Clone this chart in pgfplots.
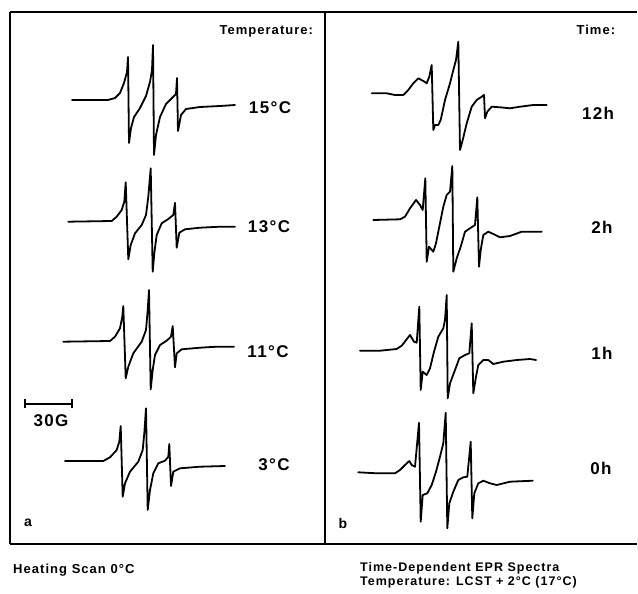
\documentclass[border=0pt]{standalone}
\usepackage{fontspec}
\setmainfont{Liberation Sans}[LetterSpace=8]
\usepackage{pgfplots}
\pgfplotsset{compat=1.18}

\newcommand{\fs}[1]{\fontsize{#1bp}{#1bp}\selectfont\bfseries}

\begin{document}
\begin{tikzpicture}
\begin{axis}[
  width=638bp, height=594bp, scale only axis,
  xmin=0, xmax=638, ymin=0, ymax=594, y dir=reverse,
  axis lines=none, clip=false,
  spec/.style={black, solid, mark=none, line width=1.8bp, line join=round, line cap=round},
]
\path (axis cs:0,0) rectangle (axis cs:638,594);

% panel frames
\draw[line width=2bp] (axis cs:10,12) -- (axis cs:637,12);
\draw[line width=2bp] (axis cs:10,544) -- (axis cs:637,544);
\draw[line width=1.8bp] (axis cs:10,12) -- (axis cs:10,544);
\draw[line width=1.8bp] (axis cs:325,12) -- (axis cs:325,544);

% ---------- panel a: heating scan ----------
% 15 C
\addplot[spec] coordinates {(72,100) (108,100) (115,98) (120,93) (124,83) (127,72) (128,57)
 (129,143) (131,128) (134,117) (140,108) (146,96) (150,82) (152,70) (153,45)
 (154,155) (156,135) (160,117) (166,104) (172,98) (176,94) (177,78)
 (178,131) (181,115) (186,109) (200,107) (220,106) (235,105)};
% 13 C
\addplot[spec] coordinates {(68.3,221.7) (111.7,221) (116.7,216.7) (121.7,210) (124.3,201.7) (125.7,182.3)
 (128.3,259.3) (130.7,245) (135,233.3) (141.7,225) (146,215) (148.3,196.7) (150.7,168.3)
 (152.7,271.7) (154.3,253.3) (156.7,235) (161.7,223.3) (168.3,219) (173.3,215) (175,202.7)
 (176.7,247.7) (179.3,232.7) (185,229.3) (200,227.7) (220,226.7) (235,226.7)};
% 11 C
\addplot[spec] coordinates {(63.3,341.7) (110,341) (115,336.7) (120,328.3) (122.3,316.7) (123.3,306)
 (125.7,378.3) (128.3,366.7) (133.3,353.3) (141.7,341.7) (146,330) (147.7,310) (149,290)
 (150.7,389.3) (152.7,370) (155,355) (160,345) (166.7,340.7) (171,336.7) (172.7,326)
 (175,367.3) (176.7,353.3) (181.7,349.3) (200,347.7) (216.7,346.7) (234,346.7)};
% 3 C
\addplot[spec] coordinates {(65,461) (103.3,461) (110,457.3) (116.7,450) (119.3,441.7) (120.7,426)
 (122.7,496.7) (125,483.3) (130,471.7) (138.3,461.7) (142.7,450) (144.3,433.3) (146,408.3)
 (147.7,510) (150,490) (153.3,473.3) (158.3,463.3) (165,460.7) (168.3,456.7) (169.3,444)
 (171,486) (173.3,471.7) (180,468.3) (200,466.7) (225,466)};

% ---------- panel b: time dependence ----------
% 12 h
\addplot[spec] coordinates {(371.7,93.3) (386.7,93.3) (395,95) (403.3,95) (408.3,90) (413.3,83.3)
 (418.3,78.3) (423.3,81) (426.7,83.3) (429.3,76.7) (431.7,65)
 (433.3,130) (435,125) (438.3,125) (440.7,120) (445,100) (450,83.3) (453.3,70) (456,60) (458.3,41.7)
 (460,150) (462.7,140) (466.7,123.3) (471.7,106.7) (476.7,100) (481.7,96.7) (484,95)
 (485,118.3) (487.3,111.7) (491.7,106.7) (500,107.3) (510,108.3) (520,106.7) (533.3,105) (546.7,105)};
% 2 h
\addplot[spec] coordinates {(373.3,220) (400,219.3) (405,216.7) (410,208.3) (416,200) (420,205) (422.7,210) (425.3,178.3)
 (426.7,261.7) (429,246.7) (433.3,251.7) (436,243.3) (439.3,226.7) (443.3,206.7) (446.7,195) (450,191.7) (452.3,166)
 (453.3,271.7) (456.7,258.3) (460.7,246.7) (465,231.7) (470,228.3) (475,225) (477.3,197.3)
 (479,266.7) (480.7,250) (483.3,235) (488.3,231.7) (493.3,234) (500,237.3) (510,236) (521.7,231.7) (541.7,231.7)};
% 1 h
\addplot[spec] coordinates {(360,350.7) (380,350.7) (396.7,349) (401.7,345.7) (406.7,339.3) (410,335) (414,341.7) (416.7,342.7) (419.3,306.7)
 (420.7,390) (422.7,371.7) (426.7,375) (430,368.3) (434,351.7) (438.3,336.7) (443.3,328.3) (445,320) (446.7,295)
 (447.7,398.3) (450,383.3) (455,370) (459.3,358.3) (465,355) (469.3,353.3) (471.7,323.3)
 (473.3,393.3) (476,376.7) (478.3,365) (483.3,360) (488.3,360) (493.3,364) (503.3,361.7) (516.7,360) (530,359) (536,360)};
% 0 h
\addplot[spec] coordinates {(358.3,472.3) (376.7,473.3) (395,473.3) (400,470) (405,465) (409.3,461) (411.7,465) (415,466.7) (419,422.7)
 (420.7,521.7) (422.7,495) (427.3,493.3) (431.7,485) (436,471.7) (440,456.7) (443.3,443.3) (445.7,412.7)
 (447.3,528.3) (449.3,503.3) (453.3,491.7) (458.3,480) (463.3,477.3) (467.3,476.7) (470.7,441.7)
 (472.3,518.3) (474.3,493.3) (478.3,483.3) (483.3,480.7) (490,483.3) (496.7,485) (510,481.7) (532.7,480.7)};

% field scale bar
\draw[line width=1.8bp] (axis cs:25,404) -- (axis cs:72,404);
\draw[line width=1.8bp] (axis cs:25,399) -- (axis cs:25,408);
\draw[line width=1.8bp] (axis cs:72,399) -- (axis cs:72,408);
\node[font=\fs{17}] at (axis cs:51,421) {30G};

% headings and series labels
\node[font=\fs{13}, anchor=west] at (axis cs:216,31) {Temperature:};
\node[font=\fs{13}, anchor=west] at (axis cs:573,30) {Time:};
\node[font=\fs{17}] at (axis cs:270,108) {15°C};
\node[font=\fs{17}] at (axis cs:269,227) {13°C};
\node[font=\fs{17}] at (axis cs:268,352) {11°C};
\node[font=\fs{17}] at (axis cs:274,465) {3°C};
\node[font=\fs{17}] at (axis cs:598,113) {12h};
\node[font=\fs{17}] at (axis cs:602,227) {2h};
\node[font=\fs{17}] at (axis cs:602,353) {1h};
\node[font=\fs{17}] at (axis cs:601,468) {0h};
\node[font=\fs{14}] at (axis cs:28,523) {a};
\node[font=\fs{14}] at (axis cs:343,523) {b};

% captions
\node[font=\fs{13}, anchor=west, inner sep=0pt] at (axis cs:13,570) {Heating Scan 0°C};
\node[font=\fs{12.5}, anchor=west, inner sep=0pt] at (axis cs:360,568) {Time-Dependent EPR Spectra};
\node[font=\fs{12.5}, anchor=west, inner sep=0pt] at (axis cs:360,582) {Temperature: LCST + 2°C (17°C)};
\end{axis}
\end{tikzpicture}
\end{document}
